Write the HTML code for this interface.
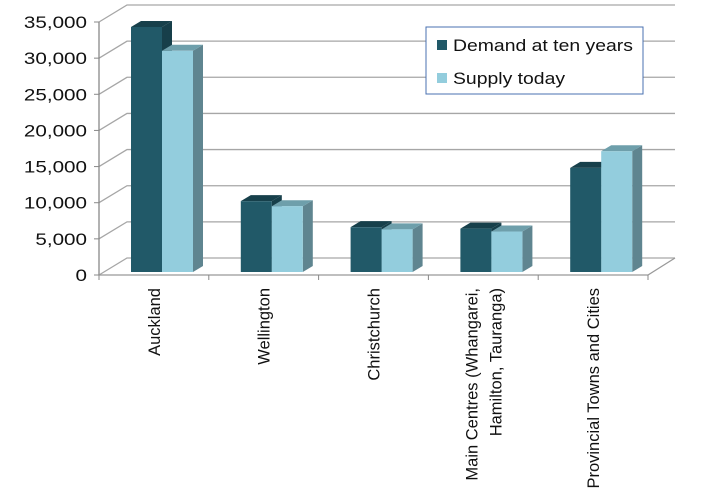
<!DOCTYPE html>
<html><head><meta charset="utf-8"><style>
body{margin:0;background:#fff;}
svg{display:block;font-family:"Liberation Sans",sans-serif;}
</style></head><body>
<svg id="chart" width="707" height="492"></svg>
<script>
const categories=["Auckland","Wellington","Christchurch","Main Centres (Whangarei,|Hamilton, Tauranga)","Provincial Towns and Cities"];
const demandValues=[33900,9800,6200,6000,14400];
const supplyValues=[30600,9100,5900,5600,16700];
const yTicks=[0,5000,10000,15000,20000,25000,30000,35000];
const seriesNames=["Demand at ten years","Supply today"];

const NS="http://www.w3.org/2000/svg";
const svg=document.getElementById('chart');
function mk(tag,attrs,parent){const e=document.createElementNS(NS,tag);for(const k in attrs)e.setAttribute(k,attrs[k]);(parent||svg).appendChild(e);return e;}
function stretch(t,k){const L=t.getComputedTextLength();t.setAttribute('textLength',L*k);t.setAttribute('lengthAdjust','spacingAndGlyphs');}
const X0=99,Y0=275,H=253,DX=28,DY=-17,MAX=35000,CW=109.8;
function yFront(v){return Y0-v/MAX*H;}
function yBar(v){return 272-v/MAX*H;}
function catX(i){return X0+i*CW;}

yTicks.forEach(function(t){
  const y=yFront(t);
  const g=mk('polyline',{points:`${X0},${y} ${X0+DX},${y+DY} 675,${y+DY}`,fill:'none',stroke:'#a6a6a6','stroke-width':1.3});
  
  
  const tk=mk('line',{x1:X0-5,y1:y,x2:X0,y2:y,stroke:'#888'});
  
  
  const lb=mk('text',{x:87,y:y+6,'text-anchor':'end','font-size':16.5,fill:'#111'});
  lb.textContent=t.toLocaleString('en-US');
  
  
  stretch(lb,1.25);
});
const axis=mk('line',{x1:X0,y1:yFront(MAX),x2:X0,y2:Y0,stroke:'#888','stroke-width':1.3});


const floor=mk('polyline',{points:`${X0},${Y0} 648,${Y0} 675,${Y0+DY}`,fill:'none',stroke:'#999','stroke-width':1.3});


for(let i=0;i<=categories.length;i++){
  const x=catX(i);
  const tk=mk('line',{x1:x,y1:Y0,x2:x,y2:Y0+5,stroke:'#888'});
  
  
}

function bar(x,v,front,top,side,name){
  const w=31,d=10,dy=-6,yt=yBar(v),yb=272;
  const g=mk('g',{});
  
  
  mk('polygon',{points:`${x+w},${yt} ${x+w+d},${yt+dy} ${x+w+d},${yb+dy} ${x+w},${yb}`,fill:side},g);
  mk('polygon',{points:`${x},${yt} ${x+d},${yt+dy} ${x+w+d},${yt+dy} ${x+w},${yt}`,fill:top},g);
  mk('rect',{x:x,y:yt,width:w,height:yb-yt,fill:front},g);
}
categories.forEach(function(c,i){
  const x=catX(i)+32;
  bar(x,demandValues[i],'#215968','#17404b','#173f4a','bar-demand-'+i);
  bar(x+31,supplyValues[i],'#93cddd','#6e9fab','#5f8590','bar-supply-'+i);
  const lines=c.split('|');
  const cx=catX(i)+CW/2+1;
  lines.forEach(function(s,j){
    const xx=cx+(j-(lines.length-1)/2)*24+5;
    const t=mk('text',{x:0,y:0,transform:`translate(${xx},288) rotate(-90)`,'text-anchor':'end','font-size':16.5,fill:'#111'});
    t.textContent=s;
    
    
  });
});

const lg=mk('g',{});


mk('rect',{x:426,y:27,width:217,height:67,fill:'#fff',stroke:'#4a70b0','stroke-width':1},lg);
const cols=['#215968','#93cddd'];
seriesNames.forEach(function(n,i){
  const y=i===0?45:78;
  const e=mk('g',{},lg);
  
  
  mk('rect',{x:437,y:y-5,width:10,height:10,fill:cols[i]},e);
  const t=mk('text',{x:453,y:y+6,'font-size':17,fill:'#111'},e);
  t.textContent=n;
  stretch(t,1.14);
});
</script>
</body></html>
